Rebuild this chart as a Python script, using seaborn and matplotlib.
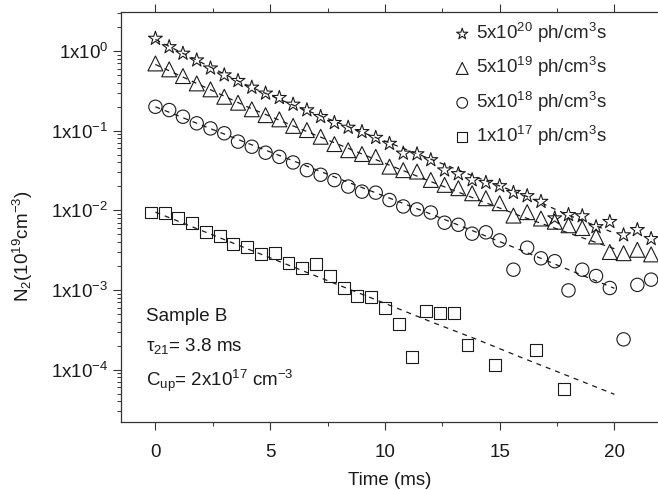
import numpy as np
import pandas as pd
import seaborn as sns
import matplotlib
matplotlib.use("Agg")
import matplotlib.pyplot as plt
from matplotlib.ticker import FixedLocator, LogLocator, NullFormatter

# measured decay data (time in ms, N2 in 1e19 cm^-3)
t_main = [0.0, 0.6, 1.2, 1.8, 2.4, 3.0, 3.6, 4.2, 4.8, 5.4, 6.0, 6.6, 7.2, 7.8,
          8.4, 9.0, 9.6, 10.2, 10.8, 11.4, 12.0, 12.6, 13.2, 13.8, 14.4, 15.0,
          15.6, 16.2, 16.8, 17.4, 18.0, 18.6, 19.2, 19.8, 20.4, 21.0, 21.6]

n_5e20 = [1.44, 1.13, 0.935, 0.77, 0.61, 0.50, 0.425, 0.35, 0.295, 0.26, 0.214,
          0.182, 0.15, 0.126, 0.11, 0.097, 0.082, 0.069, 0.052, 0.051, 0.043,
          0.032, 0.0287, 0.0241, 0.0223, 0.0203, 0.0167, 0.0152, 0.0129, 0.008,
          0.0088, 0.0085, 0.0062, 0.0072, 0.0049, 0.0057, 0.0044]

n_5e19 = [0.70, 0.59, 0.486, 0.393, 0.331, 0.267, 0.225, 0.186, 0.157, 0.139,
          0.115, 0.102, 0.084, 0.068, 0.057, 0.051, 0.047, 0.0354, 0.032, 0.0307,
          0.0241, 0.0209, 0.019, 0.0164, 0.0142, 0.0123, 0.0086, 0.0095, 0.0079,
          0.0072, 0.0065, 0.0060, 0.0047, 0.0030, 0.0029, 0.0032, 0.0028]

n_5e18 = [0.20, 0.182, 0.15, 0.124, 0.107, 0.093, 0.073, 0.063, 0.053, 0.047,
          0.040, 0.032, 0.028, 0.024, 0.0199, 0.0172, 0.0167, 0.0135, 0.0112,
          0.0103, 0.0094, 0.0070, 0.0066, 0.0051, 0.0053, 0.0042, 0.0018, 0.0034,
          0.0025, 0.0023, 0.00099, 0.0018, 0.0015, 0.00106, 0.00024, 0.00116,
          0.00135]

t_1e17 = [-0.2, 0.4, 1.0, 1.6, 2.2, 2.8, 3.4, 4.0, 4.6, 5.2, 5.8, 6.4, 7.0, 7.6,
          8.2, 8.8, 9.4, 10.0, 10.6, 11.2, 11.8, 12.4, 13.0, 13.6, 14.8, 16.6, 17.8]
n_1e17 = [0.0094, 0.0092, 0.0080, 0.0069, 0.0053, 0.0048, 0.0038, 0.0035, 0.0028,
          0.0029, 0.0022, 0.0019, 0.0021, 0.0015, 0.00106, 0.00083, 0.00082,
          0.00059, 0.00037, 0.000144, 0.00054, 0.00051, 0.00052, 0.000206,
          0.000113, 0.000175, 0.0000573]

# fitted curves (dashed)
t_fit = [0, 2, 4, 6, 8, 10, 12, 14, 16, 18, 20]
fit_5e20 = [1.40, 0.72, 0.37, 0.21, 0.125, 0.074, 0.044, 0.026, 0.0158, 0.0087, 0.0052]
fit_5e19 = [0.68, 0.37, 0.20, 0.115, 0.067, 0.039, 0.023, 0.0138, 0.0083, 0.0052, 0.0033]
fit_5e18 = [0.20, 0.118, 0.070, 0.042, 0.025, 0.015, 0.009, 0.0053, 0.0031, 0.0018, 0.00105]
fit_1e17 = [0.0095, 0.0056, 0.0033, 0.00195, 0.00115, 0.00068, 0.0004, 0.00024,
            0.00014, 0.000083, 0.000049]

labels = ['5x10$^{20}$ ph/cm$^3$s', '5x10$^{19}$ ph/cm$^3$s',
          '5x10$^{18}$ ph/cm$^3$s', '1x10$^{17}$ ph/cm$^3$s']

sns.set_style("ticks")
plt.rcParams['font.family'] = ['Liberation Sans', 'DejaVu Sans']
plt.rcParams['mathtext.fontset'] = 'custom'
plt.rcParams['mathtext.rm'] = 'Liberation Sans'
plt.rcParams['mathtext.default'] = 'regular'

fs = 13.5
ink = '#1a1a1a'
fig = plt.figure(figsize=(6.58, 4.9), dpi=100)
ax = fig.add_axes([121 / 658, 68 / 490, 537 / 658, 410 / 490])

series = [
    (t_main, n_5e20, '*', 110, t_fit, fit_5e20),
    (t_main, n_5e19, '^', 115, t_fit, fit_5e19),
    (t_main, n_5e18, 'o', 92, t_fit, fit_5e18),
    (t_1e17, n_1e17, 's', 74, t_fit, fit_1e17),
]

for (tx, ny, mk, sz, tf, nf), lab in zip(series, labels):
    sns.lineplot(x=tf, y=nf, ax=ax, color=ink, lw=0.9, linestyle=(0, (4, 4)),
                 legend=False)
    sns.scatterplot(x=tx, y=ny, ax=ax, marker=mk, s=sz, facecolor='none',
                    edgecolor=ink, linewidth=0.8, label=lab)

ax.set_yscale('log')
ax.set_xlim(-1.5, 21.9)
ax.set_ylim(2.2e-5, 3.1)

ax.yaxis.set_major_locator(FixedLocator([1e-4, 1e-3, 1e-2, 1e-1, 1]))
ax.set_yticklabels(['1x10$^{-4}$', '1x10$^{-3}$', '1x10$^{-2}$',
                    '1x10$^{-1}$', '1x10$^{0}$'])
ax.yaxis.set_minor_locator(LogLocator(base=10, subs=np.arange(2, 10), numticks=20))
ax.yaxis.set_minor_formatter(NullFormatter())
ax.set_xticks([0, 5, 10, 15, 20])
ax.set_xticks([2.5, 7.5, 12.5, 17.5], minor=True)

ax.tick_params(axis='both', which='major', labelsize=fs, length=6, width=0.8,
               color='#333333', labelcolor=ink, pad=3)
ax.tick_params(axis='both', which='minor', length=3, width=0.7, color='#333333')
ax.tick_params(axis='x', which='both', top=True)
ax.tick_params(axis='x', which='major', pad=10)
for s in ['left', 'bottom', 'top']:
    ax.spines[s].set_color('#333333')
    ax.spines[s].set_linewidth(0.9)
ax.spines['right'].set_visible(False)

ax.set_xlabel('Time (ms)', fontsize=fs, color=ink, labelpad=8)
ax.set_ylabel('N$_2$(10$^{19}$cm$^{-3}$)', fontsize=fs, color=ink)
ax.yaxis.set_label_coords(-0.16, 0.43)

ax.text(0.047, 0.258, 'Sample B', transform=ax.transAxes, fontsize=fs,
        color=ink, va='center')
ax.text(0.047, 0.186, 'τ$_{21}$= 3.8 ms', transform=ax.transAxes, fontsize=fs,
        color=ink, va='center')
ax.text(0.047, 0.100, 'C$_{up}$= 2x10$^{17}$ cm$^{-3}$', transform=ax.transAxes,
        fontsize=fs, color=ink, va='center')

ax.legend(loc='upper left', bbox_to_anchor=(0.59, 1.015), frameon=False,
          fontsize=fs, markerscale=0.8, handletextpad=0.25, labelspacing=0.55,
          handlelength=1.0, borderaxespad=0.4)

plt.savefig('out.png', dpi=100)
